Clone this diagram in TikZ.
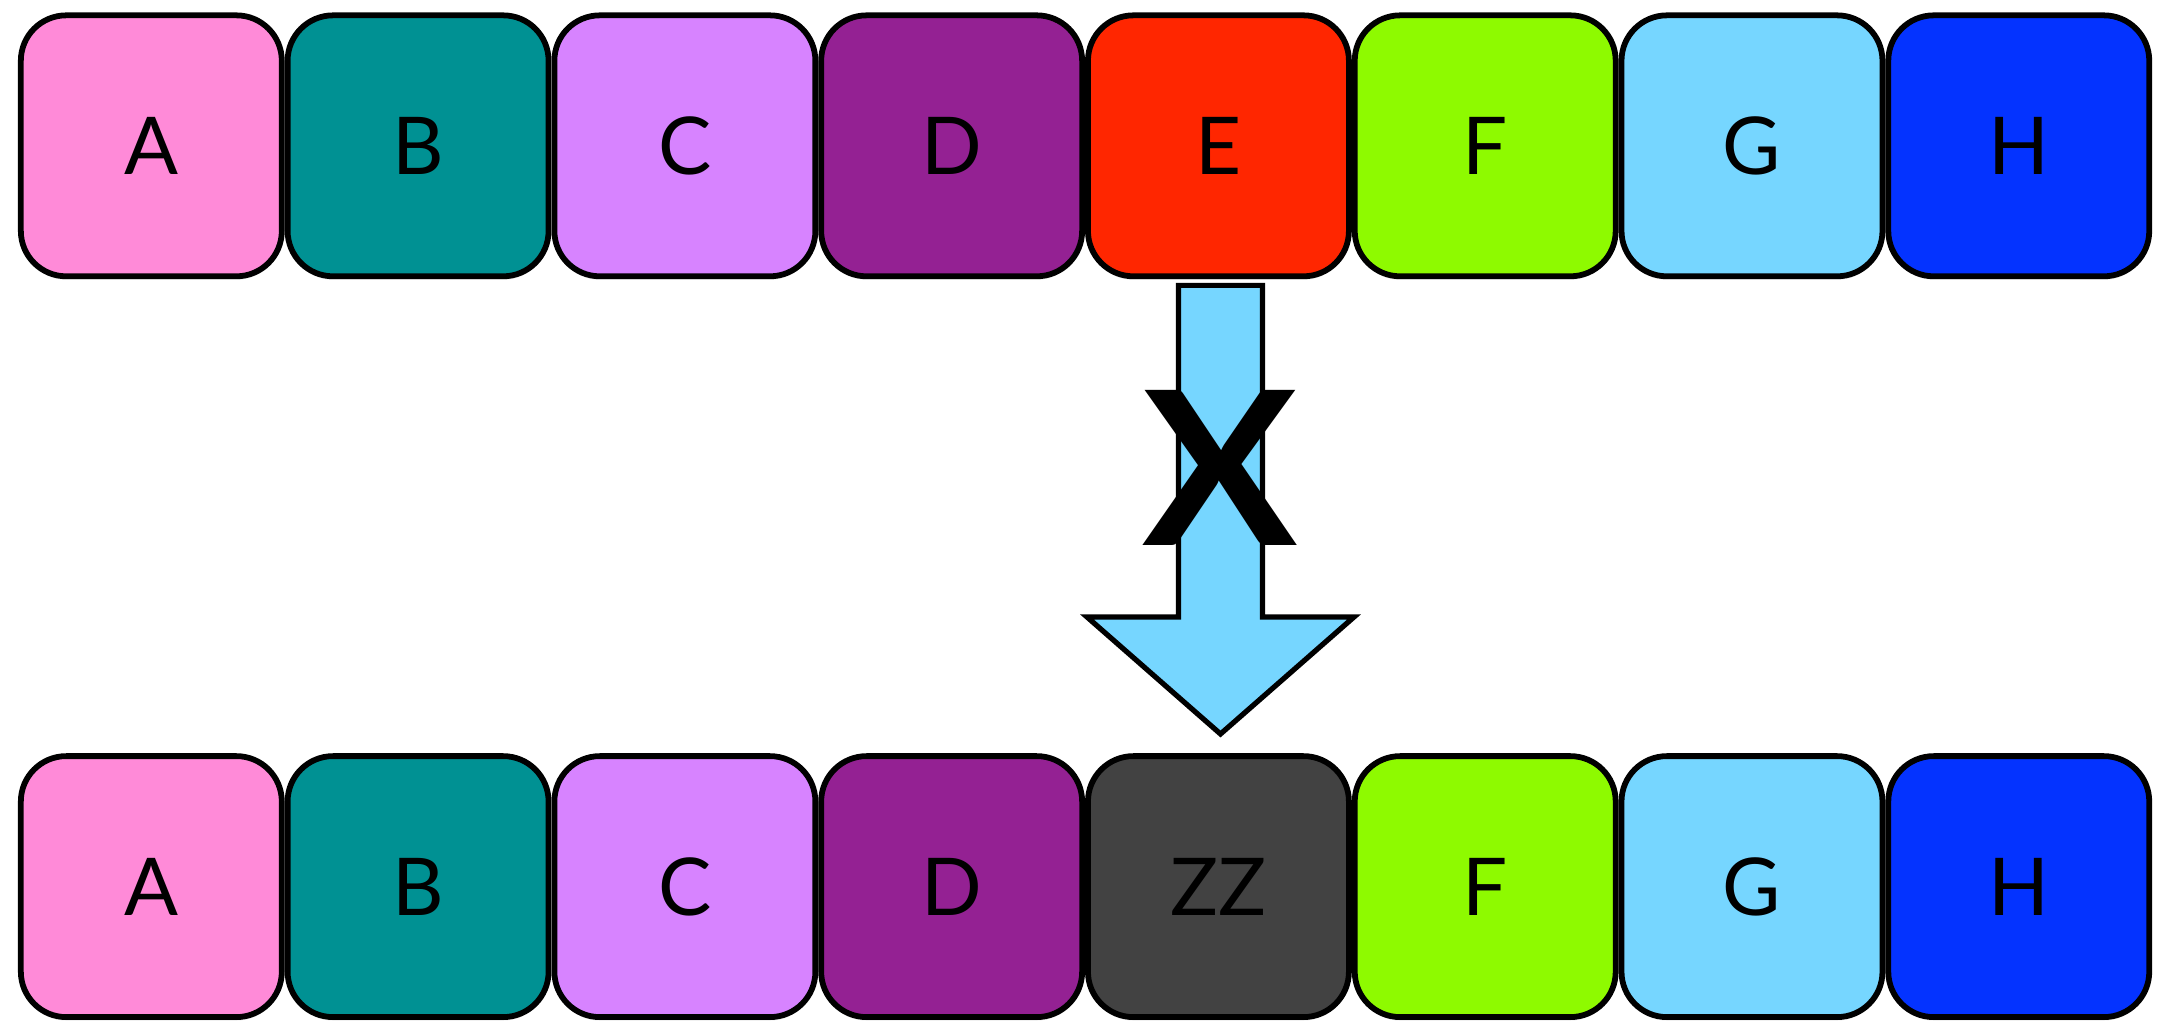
\documentclass[tikz,border=0pt]{standalone}
\usepackage{fontspec}
\setmainfont{Lato}
\usetikzlibrary{shadows,calc}
\definecolor{cCarnation}{HTML}{FF8AD8}
\definecolor{cTeal}{HTML}{009193}
\definecolor{cLavender}{HTML}{D783FF}
\definecolor{cPlum}{HTML}{942193}
\definecolor{cRed}{HTML}{FF2600}
\definecolor{cLime}{HTML}{8EFA00}
\definecolor{cSky}{HTML}{76D6FF}
\definecolor{cBlue}{HTML}{0433FF}
\definecolor{cTungsten}{HTML}{424242}
\tikzset{
  cell/.style={draw=black, line width=4.2pt, rounded corners=33pt,
    minimum width=189.7pt, minimum height=189.7pt, inner sep=0pt,
    font=\fontsize{58}{58}\selectfont,
    drop shadow={shadow xshift=0pt, shadow yshift=-2.5pt, opacity=0.18}},
  bigarrow/.style={draw=black, line width=3.8pt, fill=cSky, line join=miter},
  xmark/.style={font=\fontsize{156}{156}\selectfont\bfseries, inner sep=0pt, xscale=1.08}
}
\begin{document}
\begin{tikzpicture}[x=1pt,y=-1pt]
\useasboundingbox (0,0) rectangle (1568,742);
\fill[white] (0,0) rectangle (1568,742);
\def\pitch{193.93}
% top row
\foreach \n/\t/\c [count=\i from 0] in {tA/A/cCarnation,tB/B/cTeal,tC/C/cLavender,tD/D/cPlum,tE/E/cRed,tF/F/cLime,tG/G/cSky,tH/H/cBlue}{
  \node[cell, fill=\c] (\n) at (110+\i*\pitch,106) {\t};
}
% bottom row
\foreach \n/\t/\c [count=\i from 0] in {bA/A/cCarnation,bB/B/cTeal,bC/C/cLavender,bD/D/cPlum,bZ/ZZ/cTungsten,bF/F/cLime,bG/G/cSky,bH/H/cBlue}{
  \node[cell, fill=\c] (\n) at (110+\i*\pitch,644.5) {\t};
}
% big arrow from E down to ZZ
\coordinate (atop) at ($(tE.south)+(1.5,4.5)$);
\coordinate (atip) at ($(bZ.north)+(1.5,-14)$);
\draw[bigarrow]
  ($(atop)+(-30.5,0)$) -- ($(atop)+(30.5,0)$)
  -- ($(atip)+(30.5,-85)$) -- ($(atip)+(97,-85)$)
  -- (atip)
  -- ($(atip)+(-97,-85)$) -- ($(atip)+(-30.5,-85)$) -- cycle;
\node[xmark] (xm) at (887,340) {X};
\end{tikzpicture}
\end{document}
